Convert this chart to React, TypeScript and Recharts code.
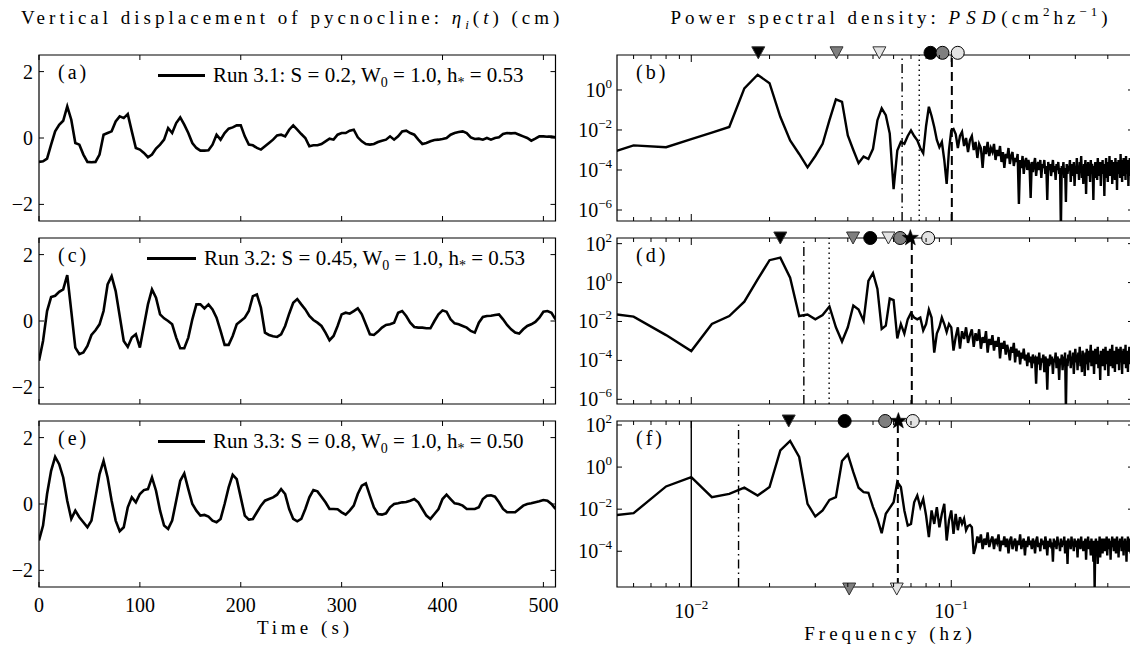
import React from "react";
import {
  ComposedChart,
  Line,
  XAxis,
  YAxis,
  ReferenceLine,
  ReferenceDot,
  ReferenceArea,
} from "recharts";

const SERIF = "'Liberation Serif', 'Times New Roman', serif";
const INK = "#000";

// pycnocline displacement (cm), one sample every 4 s from t = 0
const TIME_STEP = 4;
const ETA_31 = [
  -0.72, -0.7, -0.62, -0.2, 0.2, 0.4, 0.52, 0.95, 0.55, -0.15,
  -0.2, -0.5, -0.72, -0.73, -0.72, -0.5, 0.1, 0.15, 0.2, 0.5,
  0.65, 0.6, 0.72, 0.2, -0.3, -0.35, -0.45, -0.58, -0.5, -0.32,
  -0.2, -0.05, 0.3, 0.15, 0.45, 0.62, 0.4, 0.15, -0.15, -0.3,
  -0.38, -0.38, -0.37, -0.2, 0.1, -0.05, 0.15, 0.28, 0.32, 0.38,
  0.38, 0.05, -0.2, -0.22, -0.3, -0.35, -0.25, -0.15, -0.05, 0.08,
  0.1, 0.05, 0.25, 0.38, 0.25, 0.12, 0.0, -0.25, -0.22, -0.22,
  -0.18, -0.1, -0.02, -0.05, 0.1, 0.15, 0.15, 0.22, 0.25, 0.02,
  -0.1, -0.18, -0.2, -0.18, -0.12, -0.08, -0.05, 0.05, -0.05, 0.05,
  0.2, 0.22, 0.15, 0.1, -0.05, -0.18, -0.15, -0.1, -0.06, -0.05,
  -0.03, 0.0, 0.1, 0.15, 0.18, 0.2, 0.15, 0.02, -0.03, -0.02,
  -0.05, 0.0, -0.05, 0.0, 0.02, 0.12, 0.15, 0.14, 0.15, 0.1,
  0.05, 0.0, -0.08, -0.02, 0.05, 0.05, 0.04, 0.04, 0.02,
];
const ETA_32 = [
  -1.2, -0.6, 0.3, 0.72, 0.76, 0.88, 0.95, 1.38, 0.3, -0.8,
  -1.0, -0.95, -0.75, -0.42, -0.28, -0.1, 0.3, 1.1, 1.35, 0.9,
  0.15, -0.6, -0.78, -0.5, -0.4, -0.8, -0.15, 0.5, 0.95, 0.7,
  0.2, 0.08, 0.0, -0.1, -0.5, -0.82, -0.82, -0.5, 0.05, 0.5,
  0.5, 0.38, 0.5, 0.35, 0.1, -0.3, -0.72, -0.72, -0.45, -0.1,
  0.0, 0.1, 0.3, 0.75, 0.8, 0.4, -0.35, -0.42, -0.46, -0.48,
  -0.4, -0.15, 0.22, 0.55, 0.66, 0.5, 0.35, 0.15, 0.03, -0.05,
  -0.15, -0.35, -0.58, -0.45, -0.15, 0.2, 0.25, 0.22, 0.3, 0.38,
  0.2, -0.1, -0.4, -0.42, -0.32, -0.2, -0.12, -0.1, -0.05, 0.25,
  0.3, 0.15, -0.05, -0.18, -0.2, -0.2, -0.22, -0.22, 0.0, 0.2,
  0.32, 0.28, 0.05, -0.07, -0.1, -0.15, -0.2, -0.3, -0.35, -0.05,
  0.12, 0.15, 0.16, 0.18, 0.2, 0.05, -0.12, -0.25, -0.35, -0.38,
  -0.25, -0.15, -0.1, -0.03, 0.1, 0.28, 0.3, 0.25, 0.05,
];
const ETA_33 = [
  -1.1, -0.65, 0.3, 1.0, 1.42, 1.2, 0.8, 0.1, -0.45, -0.2,
  -0.4, -0.55, -0.7, -0.5, 0.2, 0.9, 1.3, 0.8, 0.1, -0.5,
  -0.82, -0.7, -0.1, 0.2, 0.05, 0.3, 0.42, 0.45, 0.8, 0.4,
  -0.2, -0.65, -0.75, -0.5, 0.1, 0.7, 0.92, 0.45, 0.0, -0.2,
  -0.35, -0.33, -0.38, -0.5, -0.55, -0.45, 0.0, 0.5, 0.88, 0.75,
  0.2, -0.35, -0.47, -0.45, -0.25, -0.05, 0.1, 0.15, 0.2, 0.28,
  0.45, 0.3, -0.15, -0.45, -0.52, -0.45, -0.15, 0.2, 0.42, 0.38,
  0.22, 0.05, -0.15, -0.15, -0.16, -0.25, -0.32, -0.2, -0.05, 0.3,
  0.55, 0.62, 0.25, -0.1, -0.3, -0.32, -0.28, -0.1, 0.0, 0.02,
  0.05, 0.06, 0.1, 0.15, 0.05, -0.15, -0.35, -0.45, -0.3, -0.15,
  0.15, 0.28, 0.15, 0.02, 0.0, -0.05, -0.15, -0.15, -0.15, -0.1,
  0.15, 0.25, 0.26, 0.22, 0.05, -0.15, -0.25, -0.25, -0.25, -0.15,
  -0.05, 0.0, 0.02, 0.05, 0.08, 0.12, 0.1, 0.0, -0.15,
];

// PSD read as log10(cm^2/hz), bins of 0.002 hz starting at 0.004 hz
const FREQ_STEP = 0.002;
const FIRST_BIN = 2;
const PSD_31 = [
  -3.5, -2.77, -2.86, -2.46, -2.13, -1.85, 0.08, 0.76, 0.34, -1.34,
  -2.52, -3.2, -3.87, -3.3, -2.69, -1.51, -0.47, -0.59, -2.27, -3.0,
  -3.66, -3.33, -3.45, -2.94, -1.51, -0.92, -1.26, -2.18, -4.96, -3.03,
  -2.6, -2.69, -2.3, -2.02, -2.3, -2.52, -2.9, -3.16, -1.8, -0.84,
  -1.3, -1.85, -2.5, -2.86, -2.6, -3.5, -4.7, -3.0, -2.02, -1.95,
  -2.2, -2.9, -2.3, -2.1, -2.8, -2.4, -3.1, -2.5, -2.3, -3.0,
  -2.6, -3.4, -2.7, -2.9, -3.9, -2.8, -3.2, -2.6, -3.3, -2.9,
  -3.1, -2.7, -3.5, -3.0, -3.3, -2.8, -3.6, -3.1, -3.9, -3.2,
  -3.4, -2.9, -3.7, -3.3, -3.1, -3.8, -3.4, -3.6, -3.2, -5.7,
  -3.5, -3.9, -3.3, -4.2, -3.6, -3.4, -4.0, -3.5, -3.8, -5.4,
  -3.6, -4.1, -3.7, -3.4, -4.3, -3.8, -3.6, -4.0, -3.5, -4.4,
  -3.7, -3.9, -3.5, -4.2, -3.8, -5.5, -3.6, -4.0, -3.7, -4.3,
  -3.9, -3.5, -4.1, -3.8, -4.5, -3.7, -4.0, -3.6, -4.2, -3.9,
  -7.0, -3.8, -4.1, -3.6, -4.4, -3.9, -5.6, -3.7, -4.2, -3.8,
  -4.0, -3.5, -4.6, -3.9, -3.7, -4.3, -3.6, -4.8, -3.9, -4.1,
  -3.4, -4.2, -3.8, -4.5, -3.6, -4.0, -3.3, -4.4, -3.9, -4.7,
  -3.7, -4.1, -3.5, -5.2, -3.8, -4.0, -3.6, -4.3, -3.9, -4.6,
  -3.5, -4.2, -3.7, -4.0, -5.5, -3.8, -4.4, -3.6, -4.1, -3.9,
  -4.5, -3.4, -4.0, -3.7, -4.3, -3.6, -4.8, -3.8, -4.1, -3.5,
  -4.2, -3.9, -5.3, -3.7, -4.0, -3.4, -4.4, -3.8, -4.6, -3.6,
  -4.1, -3.3, -4.3, -3.9, -4.0, -3.5, -4.7, -3.7, -4.2, -3.6,
  -3.9, -4.5, -3.4, -4.1, -3.8, -5.0, -3.6, -4.2, -3.5, -4.0,
  -3.7, -4.4, -3.2, -4.1, -3.8, -4.6, -3.5, -4.0, -3.4, -4.3,
  -3.9, -3.6, -4.5, -3.3, -4.2, -3.7, -4.0, -3.5, -4.8, -3.8,
  -4.1, -3.4, -4.3, -3.6, -4.0, -3.3, -4.4, -3.7, -4.0,
];
const PSD_32 = [
  -1.44, -1.75, -2.7, -3.52, -2.13, -1.72, -0.98, 0.16, 1.15, 1.28,
  0.25, -1.72, -1.64, -1.89, -1.67, -1.23, -2.3, -3.03, -2.3, -1.18,
  -1.39, -1.97, 0.08, 0.49, -0.33, -2.38, -2.21, -0.82, -0.9, -2.87,
  -2.13, -2.62, -1.89, -1.56, -1.8, -1.89, -1.8, -2.46, -2.13, -1.39,
  -1.8, -3.6, -2.62, -2.3, -1.8, -2.13, -2.54, -2.13, -2.3, -3.5,
  -2.8, -2.3, -3.4, -2.5, -2.9, -2.3, -3.1, -2.7, -2.4, -3.3,
  -2.6, -3.0, -2.4, -3.4, -2.8, -3.1, -2.5, -3.6, -2.9, -3.2,
  -2.7, -3.5, -3.0, -3.3, -2.8, -3.9, -3.1, -3.4, -3.0, -3.7,
  -3.2, -3.5, -4.0, -3.3, -3.6, -3.1, -4.1, -3.4, -3.8, -3.5,
  -4.2, -3.6, -3.9, -3.4, -4.0, -3.7, -4.3, -3.6, -4.1, -3.8,
  -4.4, -3.7, -4.0, -3.9, -5.2, -3.8, -4.2, -3.6, -4.5, -3.9,
  -4.1, -3.7, -4.6, -3.8, -4.0, -5.5, -3.9, -4.3, -3.7, -4.2,
  -3.8, -4.7, -3.9, -4.1, -3.6, -4.4, -3.8, -4.0, -5.0, -3.9,
  -4.2, -3.7, -4.5, -3.8, -4.1, -3.6, -6.5, -3.9, -4.3, -3.7,
  -4.0, -3.5, -4.4, -3.8, -4.2, -3.6, -4.7, -3.9, -3.4, -4.1,
  -3.7, -4.5, -3.6, -4.0, -3.3, -4.3, -3.8, -4.6, -3.5, -4.0,
  -3.7, -4.8, -3.6, -4.2, -3.4, -3.9, -4.5, -3.5, -4.1, -3.7,
  -3.2, -4.3, -3.6, -4.0, -3.5, -4.7, -3.8, -3.4, -4.2, -3.6,
  -4.0, -3.3, -4.4, -3.7, -3.9, -5.0, -3.5, -4.1, -3.6, -4.3,
  -3.4, -4.0, -3.7, -4.5, -3.3, -3.9, -3.6, -4.2, -3.5, -4.8,
  -3.7, -4.0, -3.4, -4.3, -3.6, -3.9, -3.2, -4.4, -3.7, -4.1,
  -3.5, -4.6, -3.6, -3.9, -3.3, -4.2, -3.8, -4.0, -3.4, -4.5,
  -3.6, -4.1, -3.3, -3.9, -3.7, -4.7, -3.5, -4.0, -3.4, -4.2,
  -3.6, -3.9, -3.2, -4.4, -3.7, -4.0, -3.5, -4.6, -3.6, -3.9,
  -3.3, -4.2, -3.6, -4.0, -3.4, -4.5, -3.7, -3.8, -3.5,
];
const PSD_33 = [
  -2.42, -2.19, -0.92, -0.48, -1.43, -1.27, -0.98, -1.35, -0.95, 0.79,
  1.24, 0.48, -1.75, -2.35, -2.06, -1.56, -1.43, 0.29, 0.6, -0.24,
  -0.98, -1.19, -1.22, -1.9, -2.46, -3.14, -2.22, -1.94, -1.67, -0.71,
  -0.95, -2.06, -2.78, -2.7, -1.67, -1.35, -1.9, -1.51, -2.3, -3.33,
  -2.06, -2.7, -1.9, -2.86, -2.22, -1.75, -3.49, -2.54, -2.06, -3.17,
  -2.22, -3.0, -2.38, -2.7, -2.45, -3.0, -2.8, -2.75, -2.86, -4.13,
  -3.81, -3.3, -3.6, -3.2, -3.9, -3.4, -3.7, -3.1, -3.8, -3.5,
  -3.3, -3.9, -3.4, -3.6, -3.2, -4.0, -3.5, -3.7, -3.3, -3.8,
  -3.4, -4.1, -3.5, -3.3, -3.9, -3.6, -3.4, -4.0, -3.5, -3.7,
  -3.2, -3.9, -3.6, -3.4, -4.2, -3.5, -3.8, -3.3, -3.7, -3.5,
  -3.9, -3.4, -3.6, -4.1, -3.5, -3.3, -3.8, -3.6, -4.0, -3.4,
  -3.7, -3.5, -3.9, -3.3, -3.6, -4.2, -3.5, -3.8, -3.4, -3.7,
  -3.6, -4.5, -3.4, -3.8, -3.5, -3.9, -3.3, -3.7, -3.6, -4.0,
  -3.4, -3.8, -3.5, -3.7, -3.3, -4.1, -3.6, -3.5, -4.6, -3.4,
  -3.8, -3.5, -3.9, -3.3, -3.7, -3.6, -4.0, -3.4, -3.8, -3.5,
  -3.6, -4.3, -3.4, -3.7, -3.5, -3.9, -3.3, -3.8, -3.6, -4.0,
  -3.5, -3.7, -3.4, -4.4, -3.6, -3.8, -3.3, -3.9, -3.5, -3.7,
  -4.2, -3.4, -3.8, -3.6, -4.5, -3.5, -5.8, -3.7, -3.4, -4.0,
  -3.6, -4.6, -3.5, -3.9, -3.3, -4.3, -3.6, -3.8, -3.4, -4.1,
  -3.5, -3.7, -3.4, -4.0, -3.6, -3.8, -3.3, -4.2, -3.5, -3.7,
  -3.4, -3.9, -3.6, -4.4, -3.5, -3.7, -3.3, -3.8, -3.6, -4.0,
  -3.4, -3.7, -3.5, -4.1, -3.6, -3.3, -3.9, -3.5, -4.3, -3.6,
  -3.8, -3.4, -3.7, -3.5, -4.0, -3.3, -3.8, -3.6, -4.2, -3.5,
  -3.7, -3.4, -3.9, -3.6, -4.5, -3.5, -3.8, -3.3, -4.0, -3.6,
  -3.4, -3.9, -3.5, -4.1, -3.7, -3.6, -3.8, -3.4, -3.7,
];

const TIME_TICKS = [0, 100, 200, 300, 400, 500];
const ETA_TICKS = [-2, 0, 2];
const FREQ_TICKS = [
  0.006, 0.007, 0.008, 0.009, 0.01, 0.02, 0.03, 0.04, 0.05, 0.06, 0.07, 0.08,
  0.09, 0.1, 0.2, 0.3, 0.4, 0.5,
];

type Marker = { f: number; shape: "down" | "dot" | "star"; fill: string };
type VLine = { f: number; style: "solid" | "dash" | "dot" | "dashdot" };

const BLACK = "#000000";
const GREY = "#7f7f7f";
const PALE = "#e3e3e3";

const MARKERS_B: Marker[] = [
  { f: 0.0181, shape: "down", fill: BLACK },
  { f: 0.0362, shape: "down", fill: GREY },
  { f: 0.0529, shape: "down", fill: PALE },
  { f: 0.0832, shape: "dot", fill: BLACK },
  { f: 0.0925, shape: "dot", fill: GREY },
  { f: 0.1059, shape: "dot", fill: PALE },
];
const MARKERS_D: Marker[] = [
  { f: 0.022, shape: "down", fill: BLACK },
  { f: 0.0419, shape: "down", fill: GREY },
  { f: 0.0488, shape: "dot", fill: BLACK },
  { f: 0.0573, shape: "down", fill: PALE },
  { f: 0.0636, shape: "dot", fill: GREY },
  { f: 0.0815, shape: "dot", fill: PALE },
  { f: 0.0696, shape: "star", fill: BLACK },
];
const MARKERS_F: Marker[] = [
  { f: 0.0237, shape: "down", fill: BLACK },
  { f: 0.0389, shape: "dot", fill: BLACK },
  { f: 0.0557, shape: "dot", fill: GREY },
  { f: 0.0711, shape: "dot", fill: PALE },
  { f: 0.0626, shape: "star", fill: BLACK },
];
const MARKERS_F_BOTTOM: Marker[] = [
  { f: 0.0405, shape: "down", fill: GREY },
  { f: 0.0617, shape: "down", fill: PALE },
];

const LINES_B: VLine[] = [
  { f: 0.0647, style: "dashdot" },
  { f: 0.0753, style: "dot" },
  { f: 0.1005, style: "dash" },
];
const LINES_D: VLine[] = [
  { f: 0.0271, style: "dashdot" },
  { f: 0.0339, style: "dot" },
  { f: 0.0705, style: "dash" },
];
const LINES_F: VLine[] = [
  { f: 0.01, style: "solid" },
  { f: 0.0152, style: "dashdot" },
  { f: 0.0623, style: "dash" },
];

const PANEL_TOPS = [55, 238, 421];
const PLOT_H = 166;
const MARGIN_TOP = 16;
const AXIS_H = 40;
const CHART_H = MARGIN_TOP + PLOT_H + AXIS_H;
const LEFT_W = 560;
const LEFT_AXIS_W = 39;
const LEFT_PAD_R = 4.5;
const RIGHT_X = 560.7;
const RIGHT_W = 572;
const RIGHT_AXIS_W = 56;
const FREQ_DOMAIN: [number, number] = [0.00518, 0.5];

const minus = (n: number) => (n < 0 ? `\u2212${Math.abs(n)}` : `${n}`);

function timeTick(showLabel: boolean) {
  return (p: any) => (
    <g>
      <line x1={p.x} x2={p.x} y1={p.y} y2={p.y - 5} stroke={INK} />
      <line x1={p.x} x2={p.x} y1={p.y - PLOT_H} y2={p.y - PLOT_H + 5} stroke={INK} />
      {showLabel && (
        <text x={p.x} y={p.y + 25} textAnchor="middle" fontSize={20} fontFamily={SERIF} fill={INK}>
          {p.payload.value}
        </text>
      )}
    </g>
  );
}

function etaTick(plotW: number) {
  return (p: any) => (
    <g>
      <line x1={p.x} x2={p.x + 5} y1={p.y} y2={p.y} stroke={INK} />
      <line x1={p.x + plotW - 5} x2={p.x + plotW} y1={p.y} y2={p.y} stroke={INK} />
      <text x={p.x - 6} y={p.y} dy="0.35em" textAnchor="end" fontSize={20} fontFamily={SERIF} fill={INK}>
        {minus(p.payload.value)}
      </text>
    </g>
  );
}

function freqTick(showLabel: boolean) {
  return (p: any) => {
    const e = Math.log10(p.payload.value);
    const major = Math.abs(e - Math.round(e)) < 1e-6;
    const len = major ? 7 : 4;
    return (
      <g>
        <line x1={p.x} x2={p.x} y1={p.y} y2={p.y - len} stroke={INK} />
        <line x1={p.x} x2={p.x} y1={p.y - PLOT_H} y2={p.y - PLOT_H + len} stroke={INK} />
        {showLabel && major && (
          <text x={p.x} y={p.y + 31} textAnchor="middle" fontSize={20} fontFamily={SERIF} fill={INK}>
            10
            <tspan dy={-9} fontSize={13}>
              {minus(Math.round(e))}
            </tspan>
          </text>
        )}
      </g>
    );
  };
}

function psdTick(plotW: number) {
  return (p: any) => {
    const e = Math.round(Math.log10(p.payload.value));
    return (
      <g>
        <line x1={p.x} x2={p.x + 5} y1={p.y} y2={p.y} stroke={INK} />
        <line x1={p.x + plotW - 5} x2={p.x + plotW} y1={p.y} y2={p.y} stroke={INK} />
        <text x={p.x - 5} y={p.y} textAnchor="end" fontSize={20} fontFamily={SERIF} fill={INK}>
          <tspan dy="0.35em">10</tspan>
          <tspan dy={-9} fontSize={13}>
            {minus(e)}
          </tspan>
        </text>
      </g>
    );
  };
}

function markerShape(m: Marker) {
  return (p: any) => {
    const { cx, cy } = p;
    if (m.shape === "down") {
      return (
        <path
          d={`M${cx - 6.5},${cy - 6} L${cx + 6.5},${cy - 6} L${cx},${cy + 6} Z`}
          fill={m.fill}
          stroke="#333"
          strokeWidth={1}
        />
      );
    }
    if (m.shape === "dot") {
      return <circle cx={cx} cy={cy} r={6.5} fill={m.fill} stroke={INK} strokeWidth={1} />;
    }
    const pts: string[] = [];
    for (let i = 0; i < 10; i++) {
      const r = i % 2 === 0 ? 8.5 : 3.5;
      const a = -Math.PI / 2 + (i * Math.PI) / 5;
      pts.push(`${cx + r * Math.cos(a)},${cy + r * Math.sin(a)}`);
    }
    return <polygon points={pts.join(" ")} fill={m.fill} stroke={INK} strokeWidth={0.5} />;
  };
}

const dashFor: Record<VLine["style"], string | undefined> = {
  solid: undefined,
  dash: "9 5",
  dot: "1.5 3.5",
  dashdot: "9 4 1.5 4",
};

function EtaPanel({ top, values, showX }: { top: number; values: number[]; showX: boolean }) {
  const data = values.map((v, i) => ({ t: i * TIME_STEP, v }));
  const plotW = LEFT_W - LEFT_AXIS_W - LEFT_PAD_R;
  return (
    <div style={{ position: "absolute", left: 0, top: top - MARGIN_TOP }}>
      <ComposedChart
        width={LEFT_W}
        height={CHART_H}
        data={data}
        margin={{ top: MARGIN_TOP, right: LEFT_PAD_R, bottom: 0, left: 0 }}
      >
        <XAxis
          dataKey="t"
          type="number"
          domain={[0, 512]}
          ticks={TIME_TICKS}
          interval={0}
          allowDataOverflow
          axisLine={false}
          tickLine={false}
          tickSize={0}
          tickMargin={0}
          height={AXIS_H}
          tick={timeTick(showX)}
        />
        <YAxis
          type="number"
          domain={[-2.5, 2.5]}
          ticks={ETA_TICKS}
          interval={0}
          allowDataOverflow
          axisLine={false}
          tickLine={false}
          tickSize={0}
          tickMargin={0}
          width={LEFT_AXIS_W}
          tick={etaTick(plotW)}
        />
        <ReferenceArea x1={0} x2={512} y1={-2.5} y2={2.5} fill="none" stroke={INK} strokeWidth={1.2} />
        <Line
          dataKey="v"
          type="linear"
          stroke={INK}
          strokeWidth={2.6}
          dot={false}
          isAnimationActive={false}
        />
      </ComposedChart>
    </div>
  );
}

function PsdPanel({
  top,
  logs,
  yDomain,
  yTicks,
  lines,
  markers,
  markerY,
  bottomMarkers = [],
  bottomY = 1,
  showX,
}: {
  top: number;
  logs: number[];
  yDomain: [number, number];
  yTicks: number[];
  lines: VLine[];
  markers: Marker[];
  markerY: number;
  bottomMarkers?: Marker[];
  bottomY?: number;
  showX: boolean;
}) {
  const data = logs.map((lg, i) => ({ f: (i + FIRST_BIN) * FREQ_STEP, p: Math.pow(10, lg) }));
  const plotW = RIGHT_W - RIGHT_AXIS_W;
  return (
    <div style={{ position: "absolute", left: RIGHT_X, top: top - MARGIN_TOP }}>
      <ComposedChart
        width={RIGHT_W}
        height={CHART_H}
        data={data}
        margin={{ top: MARGIN_TOP, right: 0, bottom: 0, left: 0 }}
      >
        <XAxis
          dataKey="f"
          type="number"
          scale="log"
          domain={FREQ_DOMAIN}
          ticks={FREQ_TICKS}
          interval={0}
          allowDataOverflow
          axisLine={false}
          tickLine={false}
          tickSize={0}
          tickMargin={0}
          height={AXIS_H}
          tick={freqTick(showX)}
        />
        <YAxis
          type="number"
          scale="log"
          domain={yDomain}
          ticks={yTicks}
          interval={0}
          allowDataOverflow
          axisLine={false}
          tickLine={false}
          tickSize={0}
          tickMargin={0}
          width={RIGHT_AXIS_W}
          tick={psdTick(plotW)}
        />
        <ReferenceArea
          x1={FREQ_DOMAIN[0]}
          x2={FREQ_DOMAIN[1]}
          y1={yDomain[0]}
          y2={yDomain[1]}
          fill="none"
          stroke={INK}
          strokeWidth={1.2}
        />
        <Line
          dataKey="p"
          type="linear"
          stroke={INK}
          strokeWidth={2.4}
          dot={false}
          isAnimationActive={false}
        />
        {lines.map((l) => (
          <ReferenceLine
            key={`${l.f}`}
            x={l.f}
            stroke={INK}
            strokeWidth={l.style === "dash" ? 2 : 1.4}
            strokeDasharray={dashFor[l.style]}
          />
        ))}
        {markers.map((m) => (
          <ReferenceDot key={`t${m.f}`} x={m.f} y={markerY} r={7} ifOverflow="visible" shape={markerShape(m)} />
        ))}
        {bottomMarkers.map((m) => (
          <ReferenceDot key={`b${m.f}`} x={m.f} y={bottomY} r={7} ifOverflow="visible" shape={markerShape(m)} />
        ))}
      </ComposedChart>
    </div>
  );
}

const textBase: React.CSSProperties = {
  position: "absolute",
  fontFamily: SERIF,
  color: INK,
  whiteSpace: "nowrap",
  lineHeight: "22px",
};
const subStyle: React.CSSProperties = { fontSize: 14, verticalAlign: "-5px", lineHeight: 0, color: INK };
const supStyle: React.CSSProperties = { fontSize: 13, verticalAlign: "8px", lineHeight: 0, color: INK };

function RunLegend({ top, left, lineW, s, h }: { top: number; left: number; lineW: number; s: string; h: string }) {
  const run = s === "0.2" ? "3.1" : s === "0.45" ? "3.2" : "3.3";
  return (
    <div style={{ ...textBase, top: top + 9, left, display: "flex", alignItems: "center", fontSize: 21 }}>
      <span style={{ display: "inline-block", width: lineW, height: 3, background: INK, marginRight: 8 }} />
      <span>
        Run {run}: S = {s}, W<span style={subStyle}>0</span> = 1.0, h<span style={subStyle}>*</span> = {h}
      </span>
    </div>
  );
}

function PanelTag({ top, left, tag }: { top: number; left: number; tag: string }) {
  return (
    <div style={{ ...textBase, top: top + 6, left, fontSize: 20, letterSpacing: 3 }}>({tag})</div>
  );
}

export default function App() {
  return (
    <div
      style={{
        position: "fixed",
        left: 0,
        top: 0,
        width: 1130,
        height: 649,
        overflow: "hidden",
        background: "#fff",
      }}
    >
      <EtaPanel top={PANEL_TOPS[0]} values={ETA_31} showX={false} />
      <EtaPanel top={PANEL_TOPS[1]} values={ETA_32} showX={false} />
      <EtaPanel top={PANEL_TOPS[2]} values={ETA_33} showX={true} />

      <PsdPanel
        top={PANEL_TOPS[0]}
        logs={PSD_31}
        yDomain={[2.82e-7, 56]}
        yTicks={[1e-6, 1e-4, 1e-2, 1]}
        lines={LINES_B}
        markers={MARKERS_B}
        markerY={72}
        showX={false}
      />
      <PsdPanel
        top={PANEL_TOPS[1]}
        logs={PSD_32}
        yDomain={[5.75e-7, 195]}
        yTicks={[1e-6, 1e-4, 1e-2, 1, 100]}
        lines={LINES_D}
        markers={MARKERS_D}
        markerY={195}
        showX={false}
      />
      <PsdPanel
        top={PANEL_TOPS[2]}
        logs={PSD_33}
        yDomain={[2e-6, 155]}
        yTicks={[1e-4, 1e-2, 1, 100]}
        lines={LINES_F}
        markers={MARKERS_F}
        markerY={155}
        bottomMarkers={MARKERS_F_BOTTOM}
        bottomY={1.6e-6}
        showX={true}
      />

      <RunLegend top={PANEL_TOPS[0]} left={158} lineW={47} s="0.2" h="0.53" />
      <RunLegend top={PANEL_TOPS[1]} left={147} lineW={49} s="0.45" h="0.53" />
      <RunLegend top={PANEL_TOPS[2]} left={158} lineW={47} s="0.8" h="0.50" />

      <PanelTag top={PANEL_TOPS[0]} left={58} tag="a" />
      <PanelTag top={PANEL_TOPS[1]} left={58} tag="c" />
      <PanelTag top={PANEL_TOPS[2]} left={58} tag="e" />
      <PanelTag top={PANEL_TOPS[0]} left={636} tag="b" />
      <PanelTag top={PANEL_TOPS[1]} left={636} tag="d" />
      <PanelTag top={PANEL_TOPS[2]} left={636} tag="f" />

      <div style={{ ...textBase, top: 7, left: 21, width: 534, textAlign: "center", fontSize: 19, letterSpacing: 4 }}>
        Vertical displacement of pycnocline: <i>η</i>
        <span style={{ ...subStyle, fontStyle: "italic", fontSize: 13 }}>i</span>(<i>t</i>) (cm)
      </div>
      <div style={{ ...textBase, top: 7, left: 654, width: 474, textAlign: "center", fontSize: 19, letterSpacing: 4 }}>
        Power spectral density: <i style={{ letterSpacing: 6 }}>PSD</i>(cm<span style={supStyle}>2</span>hz
        <span style={supStyle}>−1</span>)
      </div>
      <div style={{ ...textBase, top: 617, left: 205, width: 200, textAlign: "center", fontSize: 19, letterSpacing: 4 }}>
        Time (s)
      </div>
      <div style={{ ...textBase, top: 623, left: 790, width: 200, textAlign: "center", fontSize: 19, letterSpacing: 4 }}>
        Frequency (hz)
      </div>
    </div>
  );
}
